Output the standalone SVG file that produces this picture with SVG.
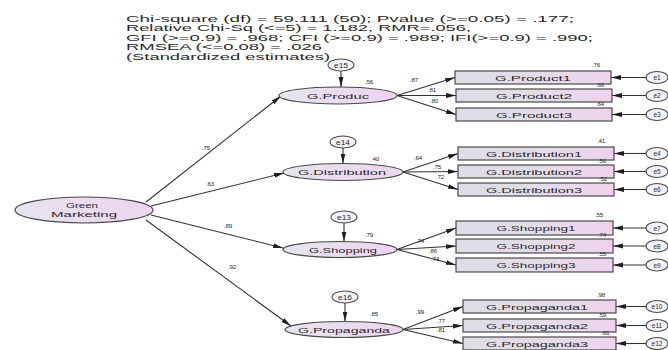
<svg xmlns="http://www.w3.org/2000/svg" width="668" height="350" viewBox="0 0 668 350">
<defs>
<linearGradient id="gBox" x1="0" y1="0" x2="1" y2="0"><stop offset="0" stop-color="#dedde6"/><stop offset="0.55" stop-color="#e4dce8"/><stop offset="1" stop-color="#efd2ef"/></linearGradient>
<linearGradient id="gEll" x1="0" y1="0" x2="1" y2="0"><stop offset="0" stop-color="#e6e4ef"/><stop offset="1" stop-color="#eed4f0"/></linearGradient>
<marker id="ah" viewBox="0 0 10 6" refX="10" refY="3" markerWidth="10" markerHeight="6" markerUnits="userSpaceOnUse" orient="auto"><path d="M0,0.6 L10,3 L0,5.4 Z" fill="#1e1e1e"/></marker>
<style>
.t{font-family:"Liberation Sans",Arial,sans-serif;fill:#2a2a2a}
.h{font-size:8.6px}
.n{font-size:8px;text-anchor:middle}
.s{font-size:6.2px;text-anchor:middle}
.e{font-size:6.5px;text-anchor:middle}
.bx{fill:url(#gBox);stroke:#4a4a4a;stroke-width:1.2}
.el{fill:url(#gEll);stroke:#4a4a4a;stroke-width:1.2}
.er{fill:#f4f2f8;stroke:#4a4a4a;stroke-width:1.1}
.c{fill:none;stroke:#333;stroke-width:1.1;marker-end:url(#ah)}
</style>
</defs>
<rect width="668" height="350" fill="#ffffff"/>

<g id="header" class="t h">
<text x="126" y="21.5" textLength="448" lengthAdjust="spacingAndGlyphs">Chi-square (df) = 59.111 (50);  Pvalue (&gt;=0.05) = .177;</text>
<text x="126" y="31" textLength="345" lengthAdjust="spacingAndGlyphs">Relative Chi-Sq (&lt;=5) = 1.182, RMR=.056,</text>
<text x="126" y="40.5" textLength="467" lengthAdjust="spacingAndGlyphs">GFI (&gt;=0.9) = .968; CFI (&gt;=0.9) = .989; IFI(&gt;=0.9) = .990;</text>
<text x="126" y="50" textLength="196" lengthAdjust="spacingAndGlyphs">RMSEA (&lt;=0.08) = .026</text>
<text x="126" y="59.5" textLength="204" lengthAdjust="spacingAndGlyphs">(Standardized estimates)</text>
</g>

<g id="connectors">
<path class="c" d="M146,202 L281,96"/>
<path class="c" d="M151,206 L284,173"/>
<path class="c" d="M151,215 L283,248"/>
<path class="c" d="M146,220 L291,326"/>
<path class="c" d="M341,71 L341,87"/>
<path class="c" d="M343,148 L343,163.5"/>
<path class="c" d="M344,223 L344,241.5"/>
<path class="c" d="M345,303 L345,321.5"/>
<path class="c" d="M397,95.5 L455,77.5"/>
<path class="c" d="M397,95.5 L456,95.5"/>
<path class="c" d="M397,95.5 L456,114.5"/>
<path class="c" d="M403,172 L458,153.5"/>
<path class="c" d="M403,172 L458,171.5"/>
<path class="c" d="M403,172 L458,189.5"/>
<path class="c" d="M397,249.5 L456,228"/>
<path class="c" d="M397,249.5 L456,246"/>
<path class="c" d="M397,249.5 L456,265"/>
<path class="c" d="M403,329.5 L463,306.5"/>
<path class="c" d="M403,329.5 L463,325.5"/>
<path class="c" d="M403,329.5 L463,343.5"/>
<path class="c" d="M646,77.5 L611,77.5"/>
<path class="c" d="M646,95.5 L612,95.5"/>
<path class="c" d="M646,114.5 L612,114.5"/>
<path class="c" d="M646,153.5 L614,153.5"/>
<path class="c" d="M646,171.5 L614,171.5"/>
<path class="c" d="M646,189.5 L614,189.5"/>
<path class="c" d="M646,228 L613,228"/>
<path class="c" d="M646,246 L613,246"/>
<path class="c" d="M646,265 L613,265"/>
<path class="c" d="M646,306.5 L616,306.5"/>
<path class="c" d="M646,325.5 L616,325.5"/>
<path class="c" d="M646,343.5 L616,343.5"/>
</g>

<g id="green-marketing">
<ellipse class="el" cx="84" cy="210" rx="69" ry="13"/>
<text class="t n" x="82" y="208" textLength="32" lengthAdjust="spacingAndGlyphs">Green</text>
<text class="t n" x="84" y="217" textLength="66" lengthAdjust="spacingAndGlyphs">Marketing</text>
</g>

<g id="g-produc">
<ellipse class="el" cx="338" cy="95.5" rx="59" ry="8.5"/>
<text class="t n" x="338" y="98.5" textLength="62" lengthAdjust="spacingAndGlyphs">G.Produc</text>
</g>
<g id="g-distribution">
<ellipse class="el" cx="343" cy="172" rx="60" ry="8.5"/>
<text class="t n" x="342" y="175" textLength="88" lengthAdjust="spacingAndGlyphs">G.Distribution</text>
</g>
<g id="g-shopping">
<ellipse class="el" cx="340" cy="249.5" rx="57" ry="8"/>
<text class="t n" x="343" y="252.5" textLength="68" lengthAdjust="spacingAndGlyphs">G.Shopping</text>
</g>
<g id="g-propaganda">
<ellipse class="el" cx="344" cy="329.5" rx="59" ry="8"/>
<text class="t n" x="344" y="332.5" textLength="92" lengthAdjust="spacingAndGlyphs">G.Propaganda</text>
</g>

<g id="e15"><ellipse class="er" cx="341" cy="65" rx="13" ry="6"/><text class="t e" x="341" y="67.5" textLength="14" lengthAdjust="spacingAndGlyphs">e15</text></g>
<g id="e14"><ellipse class="er" cx="343" cy="142" rx="13" ry="6"/><text class="t e" x="343" y="144.5" textLength="14" lengthAdjust="spacingAndGlyphs">e14</text></g>
<g id="e13"><ellipse class="er" cx="344" cy="217" rx="13" ry="6"/><text class="t e" x="344" y="219.5" textLength="14" lengthAdjust="spacingAndGlyphs">e13</text></g>
<g id="e16"><ellipse class="er" cx="345" cy="297" rx="13" ry="6"/><text class="t e" x="345" y="299.5" textLength="14" lengthAdjust="spacingAndGlyphs">e16</text></g>

<g id="g-product1"><rect class="bx" x="455" y="71" width="156" height="13"/><text class="t n" x="533" y="80.5" textLength="76" lengthAdjust="spacingAndGlyphs">G.Product1</text></g>
<g id="g-product2"><rect class="bx" x="456" y="89" width="156" height="13"/><text class="t n" x="534" y="98.5" textLength="76" lengthAdjust="spacingAndGlyphs">G.Product2</text></g>
<g id="g-product3"><rect class="bx" x="456" y="108" width="156" height="13"/><text class="t n" x="534" y="117.5" textLength="76" lengthAdjust="spacingAndGlyphs">G.Product3</text></g>

<g id="g-distribution1"><rect class="bx" x="458" y="147" width="156" height="13"/><text class="t n" x="534" y="156.5" textLength="96" lengthAdjust="spacingAndGlyphs">G.Distribution1</text></g>
<g id="g-distribution2"><rect class="bx" x="458" y="165" width="156" height="13"/><text class="t n" x="534" y="174.5" textLength="96" lengthAdjust="spacingAndGlyphs">G.Distribution2</text></g>
<g id="g-distribution3"><rect class="bx" x="458" y="183" width="156" height="13"/><text class="t n" x="534" y="192.5" textLength="96" lengthAdjust="spacingAndGlyphs">G.Distribution3</text></g>

<g id="g-shopping1"><rect class="bx" x="456" y="221" width="157" height="14"/><text class="t n" x="536" y="231" textLength="79" lengthAdjust="spacingAndGlyphs">G.Shopping1</text></g>
<g id="g-shopping2"><rect class="bx" x="456" y="239" width="157" height="14"/><text class="t n" x="536" y="249" textLength="79" lengthAdjust="spacingAndGlyphs">G.Shopping2</text></g>
<g id="g-shopping3"><rect class="bx" x="456" y="258" width="157" height="14"/><text class="t n" x="536" y="268" textLength="79" lengthAdjust="spacingAndGlyphs">G.Shopping3</text></g>

<g id="g-propaganda1"><rect class="bx" x="463" y="300" width="153" height="13"/><text class="t n" x="537" y="309.5" textLength="102" lengthAdjust="spacingAndGlyphs">G.Propaganda1</text></g>
<g id="g-propaganda2"><rect class="bx" x="463" y="319" width="153" height="13"/><text class="t n" x="537" y="328.5" textLength="102" lengthAdjust="spacingAndGlyphs">G.Propaganda2</text></g>
<g id="g-propaganda3"><rect class="bx" x="463" y="337" width="153" height="13"/><text class="t n" x="537" y="346.5" textLength="102" lengthAdjust="spacingAndGlyphs">G.Propaganda3</text></g>

<g id="e1"><ellipse class="er" cx="657" cy="77.5" rx="11" ry="6"/><text class="t e" x="657" y="80">e1</text></g>
<g id="e2"><ellipse class="er" cx="657" cy="95.5" rx="11" ry="6"/><text class="t e" x="657" y="98">e2</text></g>
<g id="e3"><ellipse class="er" cx="657" cy="114.5" rx="11" ry="6"/><text class="t e" x="657" y="117">e3</text></g>
<g id="e4"><ellipse class="er" cx="657" cy="153.5" rx="11" ry="6"/><text class="t e" x="657" y="156">e4</text></g>
<g id="e5"><ellipse class="er" cx="657" cy="171.5" rx="11" ry="6"/><text class="t e" x="657" y="174">e5</text></g>
<g id="e6"><ellipse class="er" cx="657" cy="189.5" rx="11" ry="6"/><text class="t e" x="657" y="192">e6</text></g>
<g id="e7"><ellipse class="er" cx="657" cy="228" rx="11" ry="6"/><text class="t e" x="657" y="230.5">e7</text></g>
<g id="e8"><ellipse class="er" cx="657" cy="246" rx="11" ry="6"/><text class="t e" x="657" y="248.5">e8</text></g>
<g id="e9"><ellipse class="er" cx="657" cy="265" rx="11" ry="6"/><text class="t e" x="657" y="267.5">e9</text></g>
<g id="e10"><ellipse class="er" cx="657" cy="306.5" rx="11" ry="6"/><text class="t e" x="657" y="309">e10</text></g>
<g id="e11"><ellipse class="er" cx="657" cy="325.5" rx="11" ry="6"/><text class="t e" x="657" y="328">e11</text></g>
<g id="e12"><ellipse class="er" cx="657" cy="343.5" rx="11" ry="6"/><text class="t e" x="657" y="346">e12</text></g>

<g id="path-labels" class="t s">
<text x="206" y="150">.75</text>
<text x="210" y="186">.63</text>
<text x="228" y="228">.89</text>
<text x="232" y="269">.92</text>
<text x="369" y="84">.56</text>
<text x="375" y="161">.40</text>
<text x="369" y="237">.79</text>
<text x="374" y="316">.85</text>
<text x="414" y="82">.87</text>
<text x="432" y="92">.81</text>
<text x="434" y="103">.80</text>
<text x="418" y="160">.64</text>
<text x="437" y="169">.75</text>
<text x="440" y="179">.72</text>
<text x="420" y="243">.74</text>
<text x="433" y="253">.86</text>
<text x="435" y="261">.74</text>
<text x="420" y="314">.99</text>
<text x="441" y="323">.77</text>
<text x="441" y="332">.81</text>
<text x="596" y="67">.76</text>
<text x="600" y="86.5">.66</text>
<text x="600" y="105.5">.64</text>
<text x="601" y="143">.41</text>
<text x="602" y="162.5">.56</text>
<text x="603" y="180.5">.52</text>
<text x="599" y="217">.55</text>
<text x="602" y="236.5">.74</text>
<text x="602" y="255.5">.55</text>
<text x="601" y="297">.98</text>
<text x="602" y="316.5">.59</text>
<text x="605" y="334.5">.66</text>
</g>
</svg>
